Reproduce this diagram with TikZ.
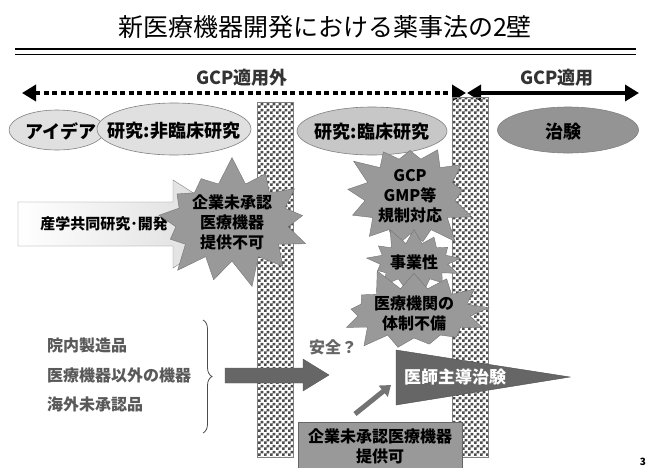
\documentclass[tikz,border=0pt]{standalone}
\usepackage{fontspec}
\setmainfont{Noto Sans CJK JP}
\usetikzlibrary{arrows.meta,patterns,shapes.symbols,shapes.geometric,decorations.pathreplacing}
\pgfdeclarepatternformonly{finecheck}{\pgfpointorigin}{\pgfqpoint{6pt}{6pt}}{\pgfqpoint{6pt}{6pt}}{%
  \pgfpathrectangle{\pgfpointorigin}{\pgfqpoint{3pt}{3pt}}%
  \pgfpathrectangle{\pgfqpoint{3pt}{3pt}}{\pgfqpoint{3pt}{3pt}}%
  \pgfusepath{fill}}
\begin{document}
\begin{tikzpicture}[x=1pt,y=-1pt,
  lbl/.style={font=\bfseries\fontsize{15}{18}\selectfont, inner sep=0pt},
  ellline/.style={draw=black!50, line width=0.6pt},
  elltxt/.style={inner sep=0pt, font=\bfseries\fontsize{18}{20}\selectfont},
  pillar/.style={pattern=finecheck, pattern color=black!70},
  burst/.style={starburst, draw=black!55, fill=black!40, starburst points=13, starburst point height=28pt, inner sep=0pt, align=center, font=\bfseries\fontsize{16}{20}\selectfont},
  listtxt/.style={font=\bfseries\fontsize{16}{18}\selectfont, text=black!65, anchor=west, inner sep=0pt}
]
\useasboundingbox[fill=white] (0,0) rectangle (650,467);
% title
\node[font=\fontsize{25}{28}\selectfont, inner sep=0pt] (title) at (325,27) {新医療機器開発における薬事法の2壁};
\draw[line width=2.4pt] (15,49) -- (636,49);
\draw[line width=0.9pt] (15,54) -- (636,54);
% header arrows
\node[lbl, font=\bfseries\fontsize{18}{20}\selectfont, text=black!80] (gcpout) at (242,78) {GCP適用外};
\node[lbl, font=\bfseries\fontsize{18}{20}\selectfont, text=black!80] (gcpin) at (557,78) {GCP適用};
\coordinate (dl) at (22,93);
\coordinate (dr) at (466,93);
\coordinate (sl) at (467,93);
\coordinate (sr) at (639,93);
\draw[line width=4pt, dash pattern=on 5pt off 3.5pt, {Triangle[length=14pt,width=16pt]}-{Triangle[length=14pt,width=16pt]}] (dl) -- (dr);
\draw[line width=4pt, {Triangle[length=14pt,width=16pt]}-{Triangle[length=14pt,width=16pt]}] (sl) -- (sr);
% pillars
\path[pillar] (257,102) rectangle (293,457);
\draw[black!50, line width=0.4pt] (257,102) rectangle (293,457);
\path[pillar] (452,97) rectangle (488,457);
\draw[black!50, line width=0.4pt] (452,97) rectangle (488,457);
% ellipses
\filldraw[ellline, fill=black!12] (57,130) ellipse [x radius=48, y radius=20];
\node[elltxt] (idea) at (61,131) {アイデア};
\filldraw[ellline, fill=black!12] (174,129) ellipse [x radius=77, y radius=26];
\node[elltxt] (nonclin) at (174,131) {研究:非臨床研究};
\filldraw[ellline, fill=black!22] (372,131) ellipse [x radius=75, y radius=24];
\node[elltxt] (clin) at (372,132) {研究:臨床研究};
\filldraw[ellline, fill=black!42] (568,130) ellipse [x radius=70.5, y radius=23];
\node[elltxt] (trial) at (563,132) {治験};
% big light arrow
\shade[left color=white, right color=black!15, draw=black!50]
  (18,202) -- (173,202) -- (173,180) -- (242,224) -- (173,268) -- (173,246) -- (18,246) -- cycle;
\node[lbl] (sangaku) at (104,224) {産学共同研究･開発};
% starbursts
\node[burst, random starburst=7, minimum width=124pt, minimum height=130pt] (b1) at (232,222) {企業未承認\\医療機器\\提供不可};
\node[burst, random starburst=3, minimum width=104pt, minimum height=98pt, starburst point height=24pt] (b2) at (410,196) {GCP\\GMP等\\規制対応};
\node[burst, random starburst=11, minimum width=80pt, minimum height=74pt, starburst point height=18pt] (b3) at (414,262) {事業性};
\node[burst, random starburst=5, minimum width=110pt, minimum height=86pt, starburst point height=24pt] (b4) at (414,313) {医療機関の\\体制不備};
% left list
\node[listtxt] (l1) at (47,345) {院内製造品};
\node[listtxt] (l2) at (47,375) {医療機器以外の機器};
\node[listtxt] (l3) at (47,404) {海外未承認品};
\coordinate (bt) at (203,320);
\coordinate (bb) at (203,433);
\draw[black!70, line width=0.8pt, decorate, decoration={brace, amplitude=9pt}] (bt) -- (bb);
% dark arrow
\draw[fill=black!60, draw=black!65] (225,368) -- (303,368) -- (303,359) -- (329,375) -- (303,391) -- (303,383) -- (225,383) -- cycle;
\node[font=\bfseries\fontsize{16}{18}\selectfont, text=black!60, inner sep=0pt] (safe) at (333,347) {安全？};
% triangle
\draw[fill=black!60, draw=black!70] (396,350) -- (570,377) -- (396,405) -- cycle;
\node[font=\bfseries\fontsize{17}{20}\selectfont, text=white, inner sep=0pt] (ishi) at (455,377) {医師主導治験};
% box
\node[draw=black!60, fill=black!40, minimum width=164pt, minimum height=48pt, anchor=north west, align=center, inner sep=0pt, font=\bfseries\fontsize{16}{20}\selectfont] (box) at (298,422) {企業未承認医療機器\\提供可};
\draw[line width=5pt, black!55, -{Triangle[length=10pt,width=14pt]}] (355,414) -- (391,385);
\node[font=\bfseries\fontsize{10}{12}\selectfont, inner sep=0pt] (pg) at (643,462) {3};
\end{tikzpicture}
\end{document}
